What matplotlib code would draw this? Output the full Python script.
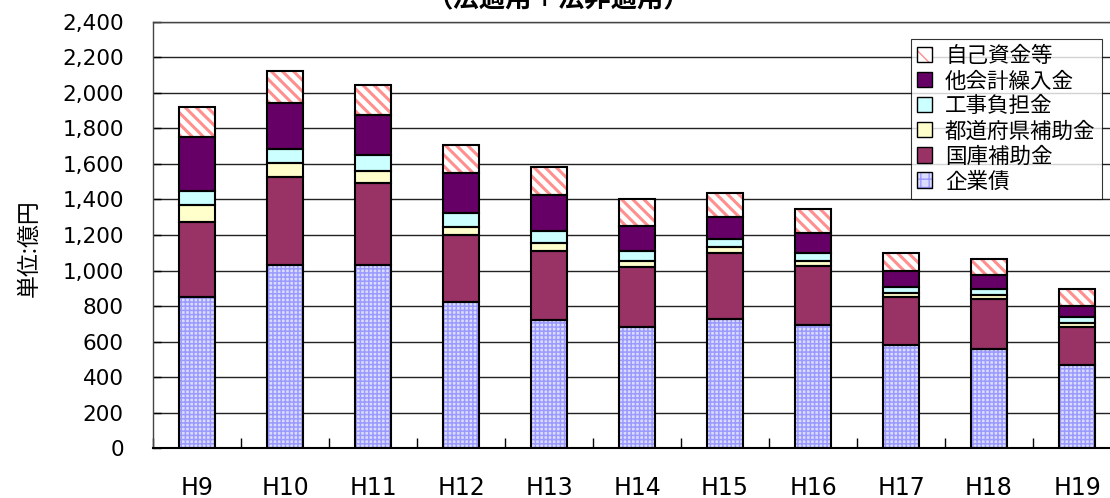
import matplotlib
matplotlib.use("Agg")
import matplotlib.pyplot as plt
import numpy as np
from matplotlib.patches import Patch
from matplotlib.legend_handler import HandlerTuple

categories = ["H9", "H10", "H11", "H12", "H13", "H14", "H15", "H16", "H17", "H18", "H19"]
kigyousai = [850, 1031, 1031, 825, 722, 681, 726, 694, 581, 557, 469]
kokko = [425, 494, 460, 373, 386, 341, 371, 333, 268, 281, 212]
todoufuken = [94, 78, 69, 45, 45, 33, 34, 28, 26, 24, 26]
kouji = [79, 79, 90, 81, 68, 53, 45, 42, 34, 32, 30]
takaikei = [302, 259, 225, 223, 204, 144, 124, 113, 90, 81, 65]
jiko = [172, 182, 169, 159, 156, 149, 135, 135, 101, 88, 94]

series_names = ["企業債", "国庫補助金", "都道府県補助金", "工事負担金", "他会計繰入金", "自己資金等"]
series_values = [kigyousai, kokko, todoufuken, kouji, takaikei, jiko]
yticks = list(range(0, 2401, 200))

plt.rcParams['font.family'] = ['Noto Sans CJK JP', 'DejaVu Sans']

styles = [
    dict(face="#DCDCFF", hatch="++++", hcolor="#9A9AFF", hlw=1.1),
    dict(face="#993366", hatch=None, hcolor=None, hlw=1.0),
    dict(face="#FFFFCC", hatch=None, hcolor=None, hlw=1.0),
    dict(face="#CCFFFF", hatch=None, hcolor=None, hlw=1.0),
    dict(face="#660066", hatch=None, hcolor=None, hlw=1.0),
    dict(face="white", hatch="\\\\\\", hcolor="#FF8E8E", hlw=2.2),
]

fig = plt.figure(figsize=(11.10, 4.98), dpi=100)
ax = fig.add_axes([153/1110, (498-448.3)/498, (1121-153)/1110, (448.3-21.7)/498])

x = np.arange(len(categories))
width = 0.41
bottom = np.zeros(len(categories))
for vals, st in zip(series_values, styles):
    vals = np.array(vals, dtype=float)
    if st["hatch"]:
        with plt.rc_context({'hatch.linewidth': st["hlw"]}):
            ax.bar(x, vals, width, bottom=bottom, color=st["face"], hatch=st["hatch"],
                   edgecolor=st["hcolor"], linewidth=0, zorder=2)
    else:
        ax.bar(x, vals, width, bottom=bottom, color=st["face"], linewidth=0, zorder=2)
    ax.bar(x, vals, width, bottom=bottom, fill=False, edgecolor="black", linewidth=1.5, zorder=3)
    bottom += vals

ax.set_xlim(-0.5, len(categories) - 0.5)
ax.set_ylim(0, 2400)
ax.set_yticks(yticks)
ax.set_yticklabels([f"{v:,}" for v in yticks], fontsize=15.5, family=['DejaVu Sans'])
ax.set_xticks(x)
ax.set_xticklabels(categories, fontsize=17, family=['DejaVu Sans'])
ax.set_xticks(np.arange(len(categories) + 1) - 0.5, minor=True)
ax.tick_params(axis='x', which='major', length=0, pad=20)
ax.tick_params(axis='x', which='minor', direction='in', length=7, width=1)
ax.tick_params(axis='y', direction='in', length=6, width=1, pad=21)
ax.yaxis.grid(True, color="#222222", linewidth=1.0, zorder=0)
ax.set_axisbelow(True)
for s in ax.spines.values():
    s.set_linewidth(1.0)
    s.set_color("#444444")
ax.spines['bottom'].set_color("black")
ax.spines['bottom'].set_linewidth(1.5)

fig.text(29/1110, 1 - 248/498, "単位:億円", rotation=90, ha='center', va='center', fontsize=16.5)
fig.text(558/1110, 1 - 7/498, "（法適用＋法非適用）", ha='center', va='baseline', fontsize=19, fontweight='bold')

handles = []
for name, st in zip(series_names, styles):
    if st["hatch"]:
        with plt.rc_context({'hatch.linewidth': st["hlw"] * 0.7}):
            h1 = Patch(facecolor=st["face"], edgecolor=st["hcolor"], hatch=st["hatch"][:2], linewidth=0)
        h2 = Patch(fill=False, edgecolor="black", linewidth=1.0)
        handles.append((h1, h2))
    else:
        handles.append(Patch(facecolor=st["face"], edgecolor="black", linewidth=1.0))
handles = handles[::-1]
labels = series_names[::-1]
leg = fig.legend(handles, labels, loc='upper right', bbox_to_anchor=(1102/1110, 1 - 39/498),
                 fontsize=15.5, frameon=True, fancybox=False, borderaxespad=0,
                 handlelength=0.7, handleheight=0.7, handletextpad=0.6,
                 labelspacing=0.14, borderpad=0.3,
                 handler_map={tuple: HandlerTuple(ndivide=1, pad=0)})
leg.get_frame().set_edgecolor("black")
leg.get_frame().set_linewidth(0.8)

fig.savefig("out.png", dpi=100)
